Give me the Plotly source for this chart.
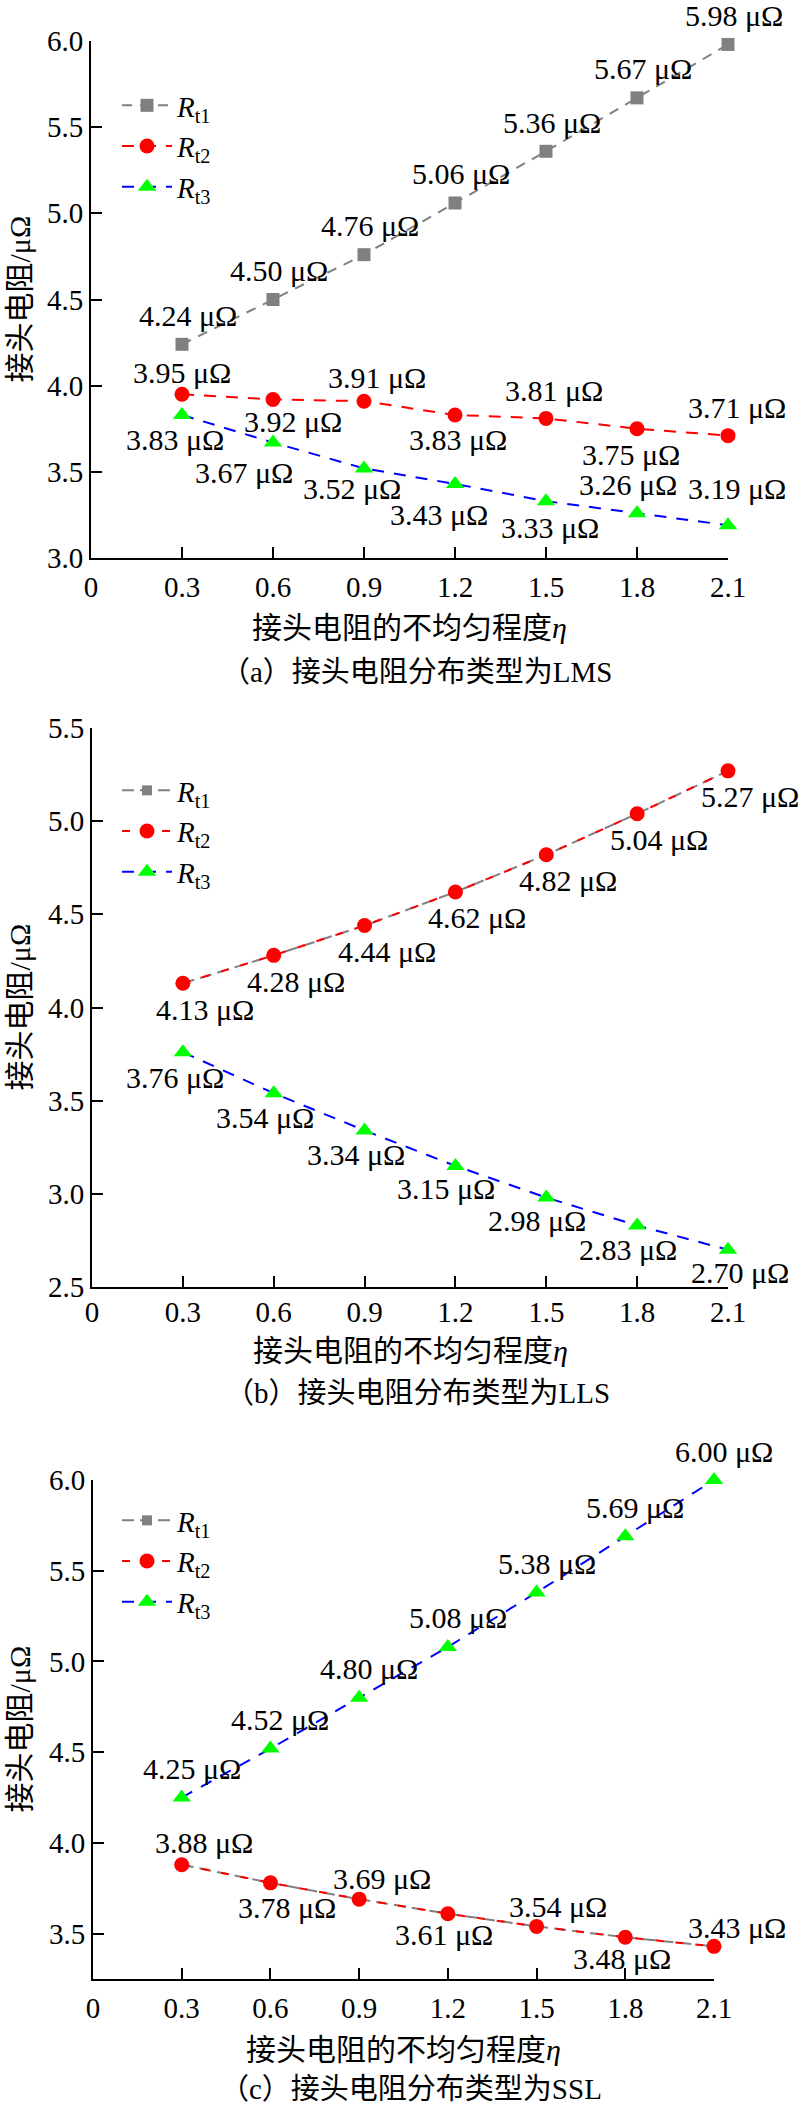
import plotly.graph_objects as go

# ---------------- data ----------------
eta = [0.3, 0.6, 0.9, 1.2, 1.5, 1.8, 2.1]
x_tickvals = [0, 0.3, 0.6, 0.9, 1.2, 1.5, 1.8, 2.1]
x_ticktext = ["0", "0.3", "0.6", "0.9", "1.2", "1.5", "1.8", "2.1"]

lms_rt1 = [4.24, 4.50, 4.76, 5.06, 5.36, 5.67, 5.98]
lms_rt2 = [3.95, 3.92, 3.91, 3.83, 3.81, 3.75, 3.71]
lms_rt3 = [3.83, 3.67, 3.52, 3.43, 3.33, 3.26, 3.19]

lls_rt1 = [4.13, 4.28, 4.44, 4.62, 4.82, 5.04, 5.27]
lls_rt2 = [4.13, 4.28, 4.44, 4.62, 4.82, 5.04, 5.27]
lls_rt3 = [3.76, 3.54, 3.34, 3.15, 2.98, 2.83, 2.70]

ssl_rt1 = [3.88, 3.78, 3.69, 3.61, 3.54, 3.48, 3.43]
ssl_rt2 = [3.88, 3.78, 3.69, 3.61, 3.54, 3.48, 3.43]
ssl_rt3 = [4.25, 4.52, 4.80, 5.08, 5.38, 5.69, 6.00]

series_names = ["<i>R</i><sub>t1</sub>", "<i>R</i><sub>t2</sub>", "<i>R</i><sub>t3</sub>"]
x_title = "接头电阻的不均匀程度<i>η</i>"
y_title = "接头电阻/μΩ"
captions = ["（a）接头电阻分布类型为LMS", "（b）接头电阻分布类型为LLS", "（c）接头电阻分布类型为SSL"]

y_ranges = [[3.0, 6.0], [2.5, 5.5], [3.25, 6.0]]
y_tickvals = [[3.0, 3.5, 4.0, 4.5, 5.0, 5.5, 6.0],
              [2.5, 3.0, 3.5, 4.0, 4.5, 5.0, 5.5],
              [3.5, 4.0, 4.5, 5.0, 5.5, 6.0]]

# ---------------- styling / layout (pixels) ----------------
W, H = 801, 2107
FONT = "Liberation Serif, Noto Sans CJK SC, serif"
colors_line = ["#808080", "#ff0000", "#0000ff"]
colors_marker = ["#808080", "#ff0000", "#00ff00"]
symbols = ["square", "circle", "triangle-up"]

# plot-area boxes: (left, right, top, bottom) in px
boxes = [(91, 728, 41, 558), (92, 728, 728, 1287), (93, 714, 1480, 1979)]
title_off = [70, 63, 70]
cap_off = [114, 106, 110]
legend_tops = [80, 765, 1495]
tick_standoff = [2, -2, 2]

# label offsets (dx, dy) in px, screen coords; None = no label
off_a = [[(6, -29)] * 7,
         [(0, -22), (20, 22), (13, -24), (3, 25), (8, -28), (-6, 26), (9, -28)],
         [(-7, 25), (-29, 30), (-12, 20), (-16, 31), (4, 26), (-9, -29), (9, -37)]]
off_b = [None,
         [(22, 26)] * 7,
         [(-8, 25), (-9, 24), (-9, 24), (-9, 23), (-9, 23), (-9, 24), (12, 23)]]
off_c = [None,
         [(22, -22), (17, 25), (23, -21), (-4, 21), (21, -20), (-3, 21), (23, -19)],
         [(10, -29)] * 7]

panels = [
    ([lms_rt1, lms_rt2, lms_rt3], off_a, [13, 15, 16]),
    ([lls_rt1, lls_rt2, lls_rt3], off_b, [10, 15, 16]),
    ([ssl_rt1, ssl_rt2, ssl_rt3], off_c, [10, 15, 16]),
]
dashes = [["10px,8px", "12px,10px", "12px,10px"],
          ["12px,6px", "8px,12px", "12px,10px"],
          ["12px,6px", "8px,12px", "12px,10px"]]


def px2x(p):
    return p / W


def px2y(p):
    return 1 - p / H


fig = go.Figure()
annotations = []
layout = dict(
    width=W, height=H, margin=dict(l=0, r=0, t=0, b=0, pad=0, autoexpand=False),
    paper_bgcolor="white", plot_bgcolor="white",
    font=dict(family=FONT, size=28, color="black"),
    showlegend=True,
)

for i, (series, offs, msizes) in enumerate(panels):
    k = "" if i == 0 else str(i + 1)
    xa, ya = "x" + k, "y" + k
    lg = "legend" + k
    left, right, top, bottom = boxes[i]
    for j, vals in enumerate(series):
        fig.add_trace(go.Scatter(
            x=eta, y=vals, name=series_names[j], mode="lines+markers",
            xaxis=xa, yaxis=ya, legend=lg,
            line=dict(color=colors_line[j], width=2, dash=dashes[i][j]),
            marker=dict(color=colors_marker[j], symbol=symbols[j], size=msizes[j]),
            cliponaxis=False,
        ))
        if offs[j] is not None:
            for xv, yv, (dx, dy) in zip(eta, vals, offs[j]):
                annotations.append(dict(
                    x=xv, y=yv, xref=xa, yref=ya, text=f"{yv:.2f} μΩ",
                    showarrow=False, xanchor="center", yanchor="middle",
                    xshift=dx, yshift=-dy, font=dict(size=30, family=FONT),
                ))
    layout["xaxis" + k] = dict(
        domain=[px2x(left), px2x(right)], range=[0, 2.1], anchor=ya,
        tickvals=x_tickvals, ticktext=x_ticktext, ticks="inside", ticklen=11,
        tickwidth=2, tickcolor="black", showline=True, linecolor="black",
        linewidth=2, showgrid=False, zeroline=False, automargin=False,
        tickfont=dict(size=29, family=FONT), ticklabelstandoff=tick_standoff[i],
    )
    layout["yaxis" + k] = dict(
        domain=[px2y(bottom), px2y(top)], range=y_ranges[i], anchor=xa,
        tickvals=y_tickvals[i], tickformat=".1f", ticks="inside", ticklen=11,
        tickwidth=2, tickcolor="black", showline=True, linecolor="black",
        linewidth=2, showgrid=False, zeroline=False, automargin=False,
        tickfont=dict(size=29, family=FONT), ticklabelstandoff=0,
    )
    layout[lg] = dict(
        x=px2x(117), y=px2y(legend_tops[i]), xanchor="left", yanchor="top",
        bgcolor="rgba(0,0,0,0)", font=dict(size=29, family=FONT),
        itemwidth=50, tracegroupgap=0,
    )
    cx = (left + right) / 2
    annotations.append(dict(
        x=px2x(cx), y=px2y(bottom + title_off[i]), xref="paper", yref="paper",
        text=x_title, showarrow=False, xanchor="center", yanchor="middle",
        font=dict(size=30, family=FONT),
    ))
    annotations.append(dict(
        x=px2x(cx + 7), y=px2y(bottom + cap_off[i]), xref="paper", yref="paper",
        text=captions[i], showarrow=False, xanchor="center", yanchor="middle",
        font=dict(size=29, family=FONT),
    ))
    annotations.append(dict(
        x=px2x(19), y=px2y((top + bottom) / 2), xref="paper", yref="paper",
        text=y_title, showarrow=False, xanchor="center", yanchor="middle",
        textangle=-90, font=dict(size=30, family=FONT),
    ))

layout["annotations"] = annotations
fig.update_layout(**layout)
fig.write_html(
    "out.html",
    config={"displayModeBar": False},
    post_script="document.body.style.margin='0';document.body.style.padding='0';",
)
